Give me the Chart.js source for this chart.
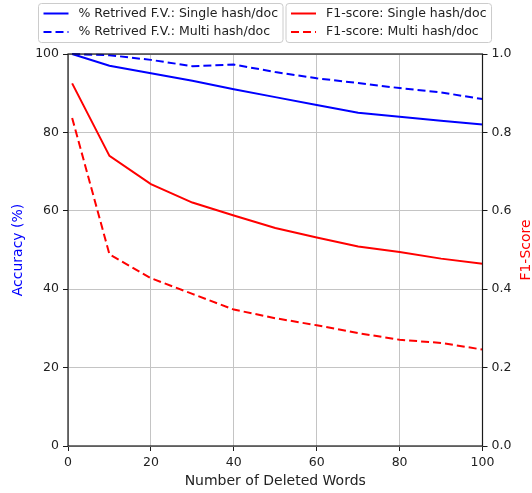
<!DOCTYPE html>
<html><head><meta charset="utf-8">
<script src="https://cdn.jsdelivr.net/npm/chart.js@4"></script>
<style>html,body{margin:0;padding:0;background:#fff}</style>
</head><body>
<canvas id="c" width="532" height="493"></canvas>
<script>
const deletedWords = [1, 10, 20, 30, 40, 50, 60, 70, 80, 90, 100];
const retrievedSingle = [100, 97.0, 95.1, 93.2, 91.0, 89.0, 87.0, 85.0, 84.0, 83.0, 82.0];
const retrievedMulti = [100, 99.7, 98.5, 96.9, 97.3, 95.4, 93.8, 92.6, 91.3, 90.2, 88.5];
const f1Single = [0.925, 0.740, 0.668, 0.621, 0.588, 0.556, 0.532, 0.509, 0.495, 0.478, 0.465];
const f1Multi = [0.837, 0.489, 0.428, 0.388, 0.348, 0.326, 0.308, 0.288, 0.271, 0.263, 0.246];
const xTicks = [0, 20, 40, 60, 80, 100];
const accTicks = [0, 20, 40, 60, 80, 100];
const f1Ticks = [0, 0.2, 0.4, 0.6, 0.8, 1.0];
const seriesLabels = ['% Retrived F.V.: Single hash/doc', '% Retrived F.V.: Multi hash/doc',
                      'F1-score: Single hash/doc', 'F1-score: Multi hash/doc'];
const xTitle = 'Number of Deleted Words';
const yTitle = 'Accuracy (%)';
const y1Title = 'F1-Score';

const FONT = '"DejaVu Sans", Verdana, sans-serif';
const pts = vals => deletedWords.map((x, i) => ({x: x, y: vals[i]}));
const setTicks = arr => (scale) => { scale.ticks = arr.map(v => ({value: v})); };

const overlay = {
  id: 'overlay',
  afterDraw(chart) {
    const {ctx, chartArea: a} = chart;
    ctx.save();
    // frame (spines)
    ctx.strokeStyle = '#1a1a1a';
    ctx.lineWidth = 1.2;
    ctx.strokeRect(a.left, a.top, a.right - a.left, a.bottom - a.top);
    // axis titles
    ctx.font = '14px ' + FONT;
    ctx.textAlign = 'center';
    ctx.textBaseline = 'middle';
    ctx.fillStyle = '#222';
    ctx.fillText(xTitle, (a.left + a.right) / 2, 481);
    const cy = (a.top + a.bottom) / 2;
    ctx.save(); ctx.translate(18, cy); ctx.rotate(-Math.PI / 2);
    ctx.fillStyle = '#0000ff'; ctx.fillText(yTitle, 0, 0); ctx.restore();
    ctx.save(); ctx.translate(526, cy); ctx.rotate(-Math.PI / 2);
    ctx.fillStyle = '#ff0000'; ctx.fillText(y1Title, 0, 0); ctx.restore();
    // legends
    ctx.font = '12.5px ' + FONT;
    const groups = [[0, 1], [2, 3]];
    let bx = 38.5;
    const by = 3.5, bh = 39, pad = 5, hl = 25, gap = 10;
    const rows = [13.5, 32];
    groups.forEach(g => {
      const ds = g.map(i => chart.data.datasets[i]);
      const tw = Math.max(...ds.map(d => ctx.measureText(d.label).width));
      const bw = pad + hl + gap + tw + pad;
      ctx.beginPath();
      ctx.roundRect(bx, by, bw, bh, 3);
      ctx.fillStyle = 'rgba(255,255,255,0.85)';
      ctx.fill();
      ctx.strokeStyle = '#cccccc';
      ctx.lineWidth = 1;
      ctx.stroke();
      ds.forEach((d, k) => {
        const y = rows[k];
        ctx.beginPath();
        ctx.setLineDash(d.borderDash || []);
        ctx.strokeStyle = d.borderColor;
        ctx.lineWidth = d.borderWidth;
        ctx.moveTo(bx + pad, y);
        ctx.lineTo(bx + pad + hl, y);
        ctx.stroke();
        ctx.setLineDash([]);
        ctx.fillStyle = '#222';
        ctx.textAlign = 'left';
        ctx.fillText(d.label, bx + pad + hl + gap, y);
      });
      bx += bw + 3;
    });
    ctx.restore();
  }
};

const lineDs = (label, data, color, dash, axis) => ({
  label: label, data: data, borderColor: color, backgroundColor: color,
  borderWidth: 2, borderDash: dash, pointRadius: 0, tension: 0, fill: false,
  yAxisID: axis, clip: 4
});

new Chart(document.getElementById('c'), {
  type: 'line',
  data: {
    datasets: [
      lineDs(seriesLabels[0], pts(retrievedSingle), '#0000ff', [], 'y'),
      lineDs(seriesLabels[1], pts(retrievedMulti), '#0000ff', [8, 4], 'y'),
      lineDs(seriesLabels[2], pts(f1Single), '#ff0000', [], 'y1'),
      lineDs(seriesLabels[3], pts(f1Multi), '#ff0000', [8, 4], 'y1')
    ]
  },
  options: {
    responsive: false,
    animation: false,
    devicePixelRatio: 1,
    layout: {padding: {top: 54, left: 0, right: 0, bottom: 0}},
    plugins: {legend: {display: false}, tooltip: {enabled: false}},
    scales: {
      x: {
        type: 'linear', min: 0, max: 100,
        afterBuildTicks: setTicks(xTicks),
        afterFit: s => { s.height = 47; },
        grid: {color: '#c4c4c4', lineWidth: 1, tickColor: '#1a1a1a', tickLength: 5},
        border: {display: false},
        ticks: {color: '#222', font: {family: FONT, size: 12.5}, padding: 4.5, maxRotation: 0}
      },
      y: {
        position: 'left', min: 0, max: 100,
        afterBuildTicks: setTicks(accTicks),
        afterFit: s => { s.width = 68; },
        grid: {color: '#c4c4c4', lineWidth: 1, tickColor: '#1a1a1a', tickLength: 5},
        border: {display: false},
        ticks: {color: '#222', font: {family: FONT, size: 12.5}, padding: 4}
      },
      y1: {
        position: 'right', min: 0, max: 1,
        afterBuildTicks: setTicks(f1Ticks),
        afterFit: s => { s.width = 49.5; },
        grid: {drawOnChartArea: false, tickColor: '#1a1a1a', tickLength: 5},
        border: {display: false},
        ticks: {color: '#222', font: {family: FONT, size: 12.5}, padding: 4,
                callback: v => Number(v).toFixed(1)}
      }
    }
  },
  plugins: [overlay]
});
</script>
</body></html>
